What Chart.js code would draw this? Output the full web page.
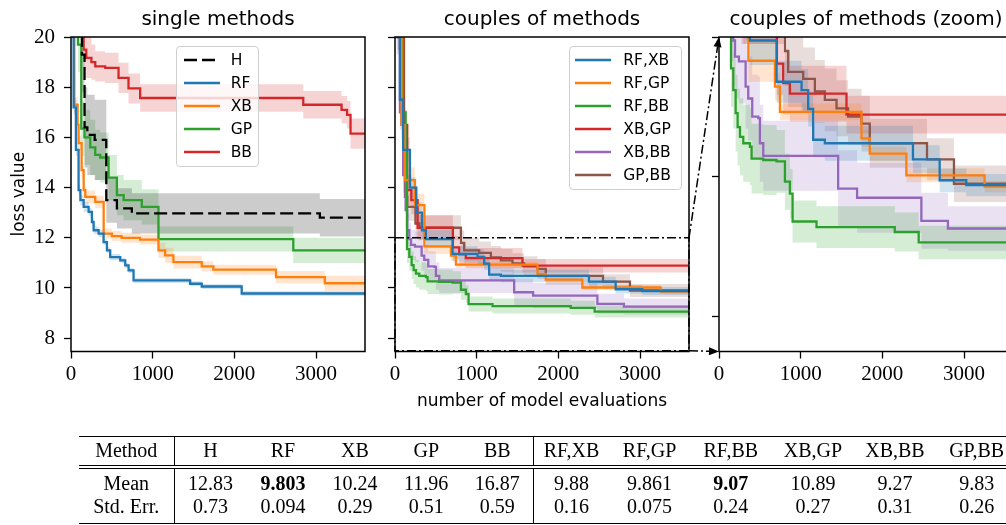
<!DOCTYPE html>
<html>
<head>
<meta charset="utf-8">
<script src="https://cdn.jsdelivr.net/npm/chart.js@4.4.1/dist/chart.umd.min.js"></script>
<style>
  html, body { margin: 0; padding: 0; background: #fff; }
  body { width: 1006px; height: 525px; overflow: hidden; position: relative; }
  .panel { position: absolute; top: 0; }
  .panel canvas { display: block; }
  #arrows { position: absolute; left: 0; top: 0; pointer-events: none; }
  .legend { position: absolute; box-sizing: border-box; border: 1px solid #cfcfcf; border-radius: 4px;
            background: rgba(255,255,255,0.8); font-family: "DejaVu Sans", sans-serif; font-size: 15.5px; color: #000; }
  .legend .row { position: absolute; left: 0; right: 0; height: 20px; display: flex; align-items: center; }
  .legend svg { position: absolute; top: 7px; }
  .legend span { position: absolute; line-height: 20px; }
  table { position: absolute; left: 79px; top: 436px; border-collapse: collapse; table-layout: fixed;
          font-family: "Liberation Serif", serif; font-size: 20px; color: #000; }
  table td { text-align: center; padding: 0; white-space: nowrap; }
  tr.head td { height: 27.5px; border-top: 1.3px solid #000; border-bottom: 4.5px double #000; }
  tr.mean td { height: 21.7px; padding-top: 3px; }
  tr.err td { height: 21.7px; padding-bottom: 5px; border-bottom: 1.3px solid #000; }
  td.sep { border-right: 1.3px solid #000; }
</style>
</head>
<body>
<div class="panel" style="left:0px"><canvas id="single" width="370" height="420"></canvas></div>
<div class="panel" style="left:380px"><canvas id="couples" width="314" height="420"></canvas></div>
<div class="panel" style="left:704px"><canvas id="zoomed" width="315" height="420"></canvas></div>
<canvas id="arrows" width="1006" height="525"></canvas>
<div class="legend" id="leg1" style="left:175.7px; top:46px; width:83.6px; height:120.7px"></div>
<div class="legend" id="leg2" style="left:569.3px; top:46px; width:112.4px; height:144px"></div>
<table id="results"></table>

<script>
// --- DATA ---
const evalTicks = [0, 1000, 2000, 3000];
const lossTicks = [8, 10, 12, 14, 16, 18, 20];
const zoomTicks = [8, 10, 12];
const zoomX = [0, 3600];
const zoomY = [7.5, 12];

// single methods
const hX = [0, 134, 166, 200, 290, 432, 562, 745, 3047, 3600];
const hY = [24, 19.3, 16.4, 16.1, 15.9, 13.5, 13.17, 12.97, 12.8, 12.8];
const hE = [1.5, 1.5, 1.6, 1.6, 1.6, 0.9, 0.8, 0.8, 0.75, 0.75];

const rfX = [0, 20, 32, 60, 93, 115, 155, 216, 256, 277, 338, 399, 440, 480, 603, 664, 705, 766, 1459, 1601, 2090, 3600];
const rfY = [24, 20, 17.2, 15.5, 13.9, 13.5, 13.23, 13.03, 12.63, 12.3, 12.17, 11.83, 11.5, 11.23, 11.1, 10.9, 10.7, 10.3, 10.17, 10.06, 9.78, 9.78];
const rfE = [0.3, 0.3, 0.3, 0.25, 0.2, 0.2, 0.2, 0.15, 0.15, 0.15, 0.15, 0.12, 0.12, 0.12, 0.1, 0.1, 0.1, 0.1, 0.1, 0.1, 0.1, 0.1];

const xbX = [0, 41, 81, 93, 130, 155, 175, 297, 400, 500, 620, 847, 1071, 1153, 1254, 1601, 1743, 2510, 3108, 3600];
const xbY = [24, 17.3, 16.5, 15.77, 14.7, 13.9, 13.63, 13.43, 12.17, 12.07, 12.0, 11.93, 11.5, 11.3, 11.03, 10.86, 10.73, 10.43, 10.19, 10.19];
const xbE = [0.3, 0.3, 0.3, 0.3, 0.3, 0.25, 0.25, 0.25, 0.2, 0.2, 0.2, 0.2, 0.3, 0.3, 0.25, 0.2, 0.2, 0.25, 0.3, 0.3];

const gpX = [0, 85, 126, 165, 236, 297, 358, 460, 562, 645, 867, 1071, 2722, 3600];
const gpY = [24, 19.7, 16.35, 16.0, 15.6, 15.3, 15.2, 14.4, 13.7, 13.5, 13.23, 11.95, 11.5, 11.5];
const gpE = [1.1, 1.1, 1.1, 1.1, 1.1, 1.0, 1.0, 0.9, 0.8, 0.8, 0.7, 0.5, 0.5, 0.5];

const bbX = [0, 154, 187, 250, 297, 419, 582, 704, 847, 2844, 3313, 3380, 3423, 3600];
const bbY = [24, 19.5, 19.17, 19.0, 18.83, 18.77, 18.37, 17.95, 17.57, 17.3, 17.1, 16.9, 16.15, 16.15];
const bbE = [0.8, 0.8, 0.8, 0.7, 0.6, 0.6, 0.6, 0.6, 0.55, 0.55, 0.55, 0.55, 0.6, 0.6];

// couples of methods
const rfxbX = [0, 30, 60, 100, 183, 260, 330, 379, 705, 1011, 1092, 1153, 1296, 2375, 2702, 3028, 3600];
const rfxbY = [24, 20, 17.5, 15.5, 14.0, 13.0, 12.3, 11.95, 11.36, 11.24, 10.97, 10.53, 10.48, 10.25, 9.95, 9.88, 9.88];
const rfxbE = [0.5, 0.5, 0.5, 0.5, 0.4, 0.4, 0.35, 0.35, 0.3, 0.3, 0.25, 0.25, 0.25, 0.2, 0.17, 0.16, 0.16];

const rfgpX = [0, 40, 80, 120, 244, 360, 685, 746, 1745, 1846, 2294, 3252, 3600];
const rfgpY = [24, 20, 16.5, 14.3, 13.3, 11.66, 11.29, 10.93, 10.55, 10.33, 10.02, 9.86, 9.86];
const rfgpE = [0.5, 0.5, 0.5, 0.5, 0.45, 0.3, 0.2, 0.12, 0.12, 0.1, 0.1, 0.08, 0.08];

const rfbbX = [0, 50, 100, 130, 147, 175, 204, 228, 257, 297, 379, 399, 542, 705, 807, 868, 901, 1194, 2152, 2445, 3600];
const rfbbY = [24, 20, 17, 15.4, 11.55, 11.24, 10.91, 10.71, 10.57, 10.48, 10.43, 10.26, 10.24, 10.22, 9.93, 9.76, 9.36, 9.28, 9.21, 9.06, 9.06];
const rfbbE = [0.6, 0.6, 0.6, 0.6, 0.55, 0.55, 0.55, 0.55, 0.55, 0.55, 0.55, 0.5, 0.5, 0.45, 0.4, 0.35, 0.3, 0.3, 0.28, 0.24, 0.24];

const xbgpX = [0, 60, 110, 150, 200, 277, 709, 786, 868, 1561, 3600];
const xbgpY = [24, 20, 16.5, 13.9, 13.5, 12.4, 11.62, 11.34, 11.19, 10.89, 10.89];
const xbgpE = [0.6, 0.6, 0.6, 0.6, 0.55, 0.5, 0.45, 0.45, 0.4, 0.27, 0.27];

const xbbbX = [0, 20, 60, 100, 130, 150, 175, 196, 244, 326, 358, 407, 481, 501, 542, 1459, 1691, 2478, 2803, 3600];
const xbbbY = [24, 20, 17, 14.5, 13.1, 12.3, 11.95, 11.72, 11.65, 11.29, 11.12, 10.86, 10.84, 10.48, 10.3, 9.83, 9.7, 9.37, 9.26, 9.26];
const xbbbE = [0.7, 0.7, 0.7, 0.7, 0.7, 0.65, 0.65, 0.6, 0.6, 0.6, 0.6, 0.6, 0.6, 0.55, 0.5, 0.55, 0.5, 0.4, 0.32, 0.32];

const gpbbX = [0, 40, 80, 122, 150, 250, 300, 807, 847, 1031, 1174, 1296, 1439, 1581, 1745, 1846, 2547, 2877, 3600];
const gpbbY = [24, 20, 16.5, 13.63, 13.23, 12.57, 12.4, 11.8, 11.5, 11.4, 11.22, 11.1, 10.98, 10.86, 10.76, 10.48, 10.25, 9.9, 9.9];
const gpbbE = [0.6, 0.6, 0.6, 0.6, 0.55, 0.55, 0.5, 0.5, 0.5, 0.45, 0.45, 0.45, 0.4, 0.4, 0.4, 0.35, 0.3, 0.26, 0.26];

// table
const methods = ['H', 'RF', 'XB', 'GP', 'BB', 'RF,XB', 'RF,GP', 'RF,BB', 'XB,GP', 'XB,BB', 'GP,BB'];
const means = ['12.83', '9.803', '10.24', '11.96', '16.87', '9.88', '9.861', '9.07', '10.89', '9.27', '9.83'];
const stdErrs = ['0.73', '0.094', '0.29', '0.51', '0.59', '0.16', '0.075', '0.24', '0.27', '0.31', '0.26'];

// =========================================================
// HELPERS
// =========================================================
const SANS = '"DejaVu Sans", sans-serif';
const SERIF = '"Liberation Serif", serif';
const C = { blue: '#1f77b4', orange: '#ff7f0e', green: '#2ca02c', red: '#d62728', purple: '#9467bd', brown: '#8c564b', black: '#000000' };
const DASH = [13, 5];
const DASHDOT = [9, 3, 2, 3];

function rgba(hex, a) {
    const n = parseInt(hex.slice(1), 16);
    return `rgba(${n >> 16}, ${(n >> 8) & 255}, ${n & 255}, ${a})`;
}

// line + shaded band (two hidden edges filled between)
function series(label, color, xs, ys, errs, dash) {
    const pts = arr => xs.map((x, i) => ({ x, y: arr[i] }));
    const edge = { stepped: true, borderWidth: 1, borderColor: 'transparent', pointRadius: 0, order: 2, band: true };
    return [
        { ...edge, label: label + ' upper', data: pts(ys.map((y, i) => y + errs[i])), fill: false },
        { ...edge, label: label + ' lower', data: pts(ys.map((y, i) => y - errs[i])), fill: '-1', backgroundColor: rgba(color, 0.2) },
        { label, data: pts(ys), stepped: true, borderColor: color, borderWidth: 2.3, borderDash: dash || [], pointRadius: 0, fill: false, order: 1 }
    ];
}

const frame = {
    id: 'frame',
    afterDatasetsDraw(chart) {
        const { ctx, chartArea: a } = chart;
        ctx.save();
        ctx.strokeStyle = '#000';
        ctx.lineWidth = 1.5;
        ctx.strokeRect(a.left, a.top, a.right - a.left, a.bottom - a.top);
        ctx.restore();
    }
};

const zoomRect = {
    id: 'zoomRect',
    afterDatasetsDraw(chart) {
        const { ctx, scales: { x, y } } = chart;
        const x0 = x.getPixelForValue(zoomX[0]), x1 = x.getPixelForValue(zoomX[1]);
        const y0 = y.getPixelForValue(zoomY[0]), y1 = y.getPixelForValue(zoomY[1]);
        ctx.save();
        ctx.strokeStyle = '#000';
        ctx.lineWidth = 1.5;
        ctx.setLineDash(DASHDOT);
        ctx.strokeRect(x0, y1, x1 - x0, y0 - y1);
        ctx.restore();
    }
};

function makeChart(id, datasets, cfg) {
    const tickGrid = { drawOnChartArea: false, drawTicks: true, tickLength: 7, tickColor: '#000', tickWidth: 1.3 };
    return new Chart(document.getElementById(id), {
        type: 'line',
        data: { datasets },
        options: {
            responsive: false, animation: false, events: [],
            layout: { padding: { left: 0, right: cfg.padRight, top: 0, bottom: 0 } },
            plugins: {
                legend: { display: false },
                tooltip: { enabled: false },
                title: { display: true, text: cfg.title, fullSize: false, color: '#000',
                         font: { family: SANS, size: 20, weight: 'normal' }, padding: { top: 8, bottom: 5 } }
            },
            scales: {
                x: {
                    type: 'linear', min: 0, max: 3600,
                    afterBuildTicks: s => { s.ticks = evalTicks.map(v => ({ value: v })); },
                    afterFit: s => { s.height = 68.5; },
                    border: { display: false },
                    grid: tickGrid,
                    ticks: { color: '#000', font: { family: SERIF, size: 21 }, padding: 3.5, maxRotation: 0,
                             callback: v => String(v) },
                    title: { display: !!cfg.xTitle, text: cfg.xTitle || '', color: '#000',
                             font: { family: SANS, size: 17 }, padding: { top: 0, bottom: 8 } }
                },
                y: {
                    type: 'linear', min: cfg.yMin, max: cfg.yMax,
                    afterBuildTicks: s => { s.ticks = cfg.yTicks.map(v => ({ value: v })); },
                    afterFit: s => { s.width = cfg.yWidth; },
                    border: { display: false },
                    grid: tickGrid,
                    ticks: { display: cfg.yLabels, color: '#000', font: { family: SERIF, size: 21 }, padding: 9,
                             callback: v => String(v) },
                    title: { display: !!cfg.yTitle, text: cfg.yTitle || '', color: '#000',
                             font: { family: SANS, size: 17 }, padding: { top: 9, bottom: 0 } }
                }
            }
        },
        plugins: [frame].concat(cfg.extra || [])
    });
}

// =========================================================
// CHARTS
// =========================================================
const singleSets = [].concat(
    series('H', C.black, hX, hY, hE, DASH),
    series('RF', C.blue, rfX, rfY, rfE),
    series('XB', C.orange, xbX, xbY, xbE),
    series('GP', C.green, gpX, gpY, gpE),
    series('BB', C.red, bbX, bbY, bbE)
);
const coupleSets = () => [].concat(
    series('RF,XB', C.blue, rfxbX, rfxbY, rfxbE),
    series('RF,GP', C.orange, rfgpX, rfgpY, rfgpE),
    series('RF,BB', C.green, rfbbX, rfbbY, rfbbE),
    series('XB,GP', C.red, xbgpX, xbgpY, xbgpE),
    series('XB,BB', C.purple, xbbbX, xbbbY, xbbbE),
    series('GP,BB', C.brown, gpbbX, gpbbY, gpbbE)
);

const singleChart = makeChart('single', singleSets, {
    title: 'single methods', yMin: 7.47, yMax: 20, yTicks: lossTicks, yLabels: true, yWidth: 71, padRight: 5, yTitle: 'loss value'
});
const couplesChart = makeChart('couples', coupleSets(), {
    title: 'couples of methods', yMin: 7.47, yMax: 20, yTicks: lossTicks, yLabels: false, yWidth: 15, padRight: 5,
    xTitle: 'number of model evaluations', extra: [zoomRect]
});
const zoomChart = makeChart('zoomed', coupleSets(), {
    title: 'couples of methods (zoom)', yMin: zoomY[0], yMax: zoomY[1], yTicks: zoomTicks, yLabels: false, yWidth: 15, padRight: 6
});

// =========================================================
// ZOOM ARROWS (panel 2 box -> panel 3 axes)
// =========================================================
function pagePoint(chart, xv, yv) {
    const c = chart.canvas;
    return [c.offsetParent.offsetLeft + chart.scales.x.getPixelForValue(xv), chart.scales.y.getPixelForValue(yv)];
}

function arrow(ctx, [x0, y0], [x1, y1]) {
    const ang = Math.atan2(y1 - y0, x1 - x0), len = 10, half = 4;
    const bx = x1 - len * Math.cos(ang), by = y1 - len * Math.sin(ang);
    ctx.setLineDash(DASHDOT);
    ctx.beginPath(); ctx.moveTo(x0, y0); ctx.lineTo(bx, by); ctx.stroke();
    ctx.setLineDash([]);
    ctx.beginPath();
    ctx.moveTo(x1, y1);
    ctx.lineTo(bx + half * Math.sin(ang), by - half * Math.cos(ang));
    ctx.lineTo(bx - half * Math.sin(ang), by + half * Math.cos(ang));
    ctx.closePath(); ctx.fill();
}

const actx = document.getElementById('arrows').getContext('2d');
actx.strokeStyle = '#000'; actx.fillStyle = '#000'; actx.lineWidth = 1.5;
arrow(actx, pagePoint(couplesChart, zoomX[1], zoomY[1]), pagePoint(zoomChart, zoomX[0], zoomY[1]));
arrow(actx, pagePoint(couplesChart, zoomX[1], zoomY[0]), pagePoint(zoomChart, zoomX[0], zoomY[0]));

// =========================================================
// LEGENDS (built from the chart datasets)
// =========================================================
function buildLegend(elId, chart, lineLeft, textLeft) {
    const box = document.getElementById(elId);
    chart.data.datasets.filter(d => !d.band).forEach((d, i) => {
        const row = document.createElement('div');
        row.className = 'row';
        row.style.top = (3.3 + i * 23) + 'px';
        const dash = d.borderDash.length ? `stroke-dasharray="${d.borderDash.join(' ')}"` : '';
        row.innerHTML = `<svg width="36" height="6" style="left:${lineLeft}px"><line x1="0" y1="3" x2="36" y2="3" stroke="${d.borderColor}" stroke-width="2.3" ${dash}/></svg>` +
                        `<span style="left:${textLeft}px">${d.label}</span>`;
        box.appendChild(row);
    });
}
buildLegend('leg1', singleChart, 7, 54);
buildLegend('leg2', couplesChart, 5, 53);

// =========================================================
// RESULTS TABLE
// =========================================================
const colWidths = [95, 72.7, 72.5, 71.6, 70.9, 71.6, 75.9, 80.8, 81.7, 82.5, 81.6, 81.8];
const groups = [[0, 5], [5, 11]];
const best = groups.map(([a, b]) => {
    let k = a;
    for (let i = a; i < b; i++) if (parseFloat(means[i]) < parseFloat(means[k])) k = i;
    return k;
});
const table = document.getElementById('results');
table.style.width = colWidths.reduce((s, w) => s + w, 0) + 'px';
table.innerHTML = '<colgroup>' + colWidths.map(w => `<col style="width:${w}px">`).join('') + '</colgroup>';
function addRow(cls, head, cells) {
    const tr = document.createElement('tr');
    tr.className = cls;
    tr.innerHTML = `<td class="sep">${head}</td>` + cells.map((c, i) => `<td${i === 4 ? ' class="sep"' : ''}>${c}</td>`).join('');
    table.appendChild(tr);
}
addRow('head', 'Method', methods);
addRow('mean', 'Mean', means.map((m, i) => best.includes(i) ? `<b>${m}</b>` : m));
addRow('err', 'Std. Err.', stdErrs);
</script>
</body>
</html>
